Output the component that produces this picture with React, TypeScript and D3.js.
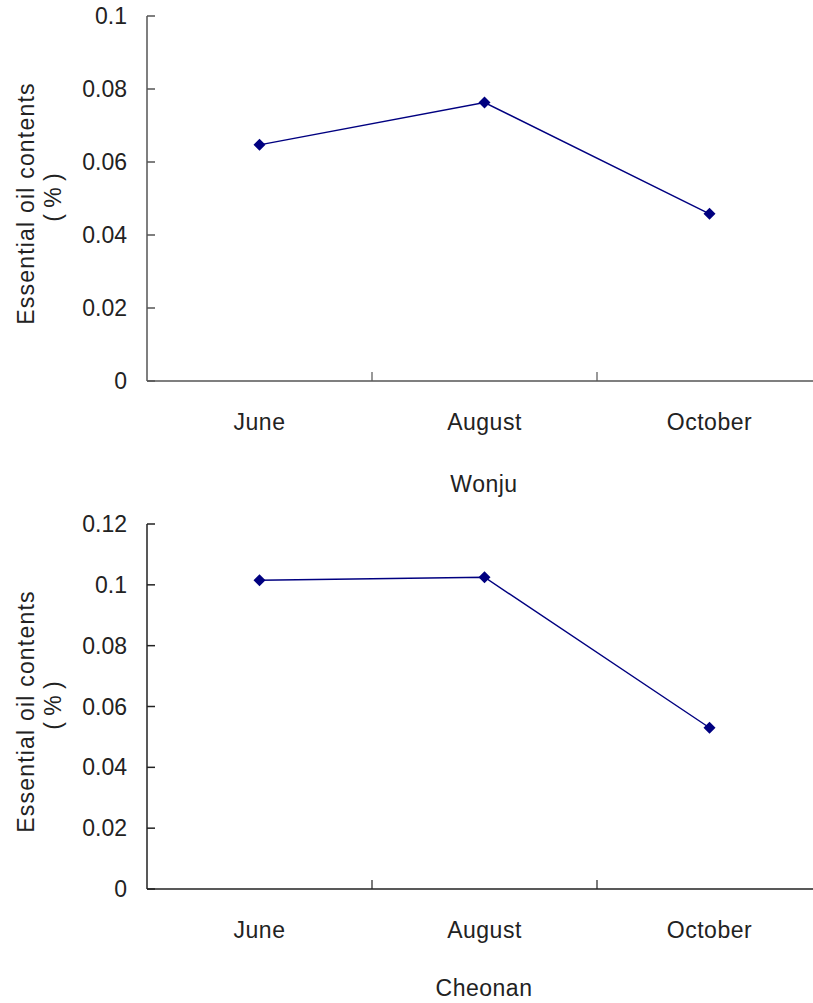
import React, { useEffect, useRef } from "react";
import * as d3 from "d3";

const months = ["June", "August", "October"];
const wonjuValues = [0.0647, 0.0763, 0.0458];
const cheonanValues = [0.1015, 0.1025, 0.053];
const wonjuTicks = [0, 0.02, 0.04, 0.06, 0.08, 0.1];
const cheonanTicks = [0, 0.02, 0.04, 0.06, 0.08, 0.1, 0.12];
const yTitle = "Essential oil contents";
const yUnit = "( % )";

const FONT = "'Liberation Sans', Arial, sans-serif";

type Panel = {
  title: string;
  values: number[];
  ticks: number[];
  top: number;
  bottom: number;
  titleOffset: number;
  axisColor: string;
};

const panels: Panel[] = [
  { title: "Wonju", values: wonjuValues, ticks: wonjuTicks, top: 16, bottom: 381, titleOffset: 111, axisColor: "#555" },
  { title: "Cheonan", values: cheonanValues, ticks: cheonanTicks, top: 524, bottom: 889, titleOffset: 107, axisColor: "#222" },
];

export default function App() {
  const ref = useRef<SVGSVGElement>(null);
  useEffect(() => {
    const svg = d3.select(ref.current);
    svg.selectAll("*").remove();
    const left = 147;
    const x = d3.scaleBand<string>().domain(months).range([left, 822]);
    panels.forEach((p) => {
      const g = svg.append("g");
      const maxT = p.ticks[p.ticks.length - 1];
      const y = d3.scaleLinear().domain([0, maxT]).range([p.bottom, p.top]);
      // y axis
      g.append("line").attr("x1", left).attr("x2", left).attr("y1", p.top).attr("y2", p.bottom)
        .attr("stroke", p.axisColor).attr("stroke-width", 1.5);
      p.ticks.forEach((t) => {
        g.append("line").attr("x1", left).attr("x2", left + 8).attr("y1", y(t)).attr("y2", y(t))
          .attr("stroke", p.axisColor).attr("stroke-width", 1.5);
        g.append("text").attr("x", 127).attr("y", y(t) + 8).attr("text-anchor", "end")
          .attr("font-family", FONT).attr("font-size", 23).attr("fill", "#222").text(String(t));
      });
      // x axis
      g.append("line").attr("x1", left).attr("x2", 822).attr("y1", p.bottom).attr("y2", p.bottom)
        .attr("stroke", p.axisColor).attr("stroke-width", 1.5);
      months.slice(1).forEach((m) => {
        const xp = x(m)!;
        g.append("line").attr("x1", xp).attr("x2", xp).attr("y1", p.bottom).attr("y2", p.bottom - 9)
          .attr("stroke", p.axisColor).attr("stroke-width", 1.2);
      });
      months.forEach((m) => {
        g.append("text").attr("x", x(m)! + x.bandwidth() / 2).attr("y", p.bottom + 49)
          .attr("text-anchor", "middle").attr("font-family", FONT).attr("font-size", 23)
          .attr("letter-spacing", 0.5).attr("fill", "#222").text(m);
      });
      g.append("text").attr("x", 484).attr("y", p.bottom + p.titleOffset).attr("text-anchor", "middle")
        .attr("font-family", FONT).attr("font-size", 23).attr("letter-spacing", 0.5)
        .attr("fill", "#222").text(p.title);
      // y title
      const cy = (p.top + p.bottom) / 2 + 5;
      g.append("text").attr("transform", `translate(34,${cy}) rotate(-90)`).attr("text-anchor", "middle")
        .attr("font-family", FONT).attr("font-size", 23).attr("letter-spacing", 1.2)
        .attr("fill", "#222").text(yTitle);
      g.append("text").attr("transform", `translate(61,${cy - 6}) rotate(-90)`).attr("text-anchor", "middle")
        .attr("font-family", FONT).attr("font-size", 23).attr("fill", "#222").text(yUnit);
      // line
      const line = d3.line<number>().x((_, i) => x(months[i])! + x.bandwidth() / 2).y((d) => y(d));
      g.append("path").attr("d", line(p.values)).attr("fill", "none").attr("stroke", "#000080").attr("stroke-width", 1.4);
      const sym = d3.symbol().type(d3.symbolSquare).size(72);
      p.values.forEach((v, i) => {
        g.append("path").attr("d", sym()!)
          .attr("transform", `translate(${x(months[i])! + x.bandwidth() / 2},${y(v)}) rotate(45)`)
          .attr("fill", "#000080");
      });
    });
  }, []);
  return (
    <svg ref={ref} width={813} height={1003}
      style={{ position: "absolute", left: 0, top: 0, background: "#fff" }} />
  );
}
